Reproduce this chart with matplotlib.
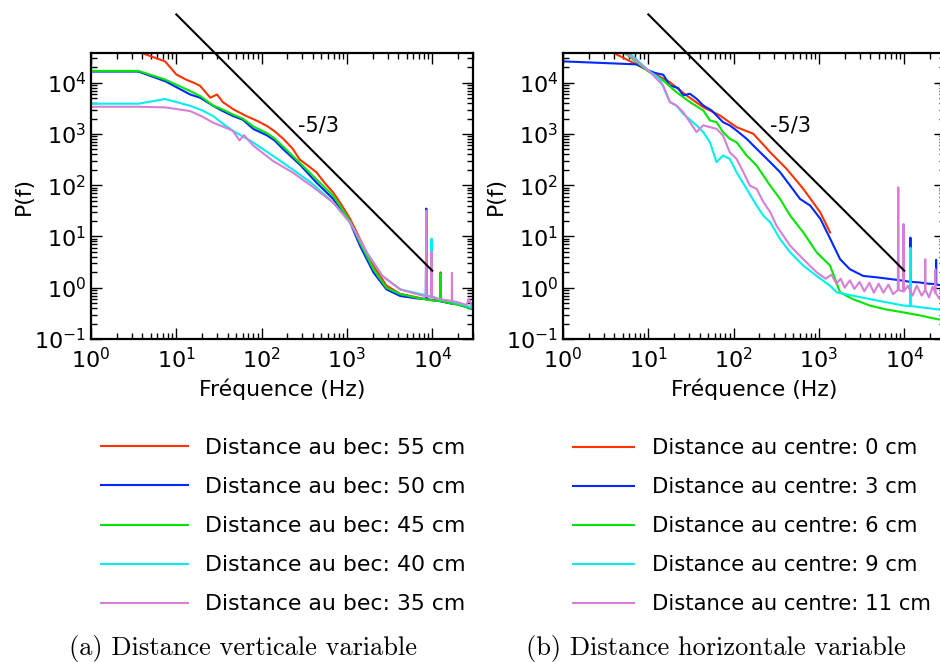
#spectres de puissance, deux panneaux (a) et (b)
#valeurs

import matplotlib
matplotlib.use("Agg")
import matplotlib.pyplot as plt
from matplotlib.ticker import LogLocator

plt.rcParams['font.family'] = 'DejaVu Sans'
plt.rcParams['mathtext.fontset'] = 'dejavusans'

colors = ['#ff3300', '#0028ff', '#00e600', '#00f0f0', '#d67fd6']

labels_a = ["Distance au bec: 55 cm", "Distance au bec: 50 cm", "Distance au bec: 45 cm",
            "Distance au bec: 40 cm", "Distance au bec: 35 cm"]
labels_b = ["Distance au centre: 0 cm", "Distance au centre: 3 cm", "Distance au centre: 6 cm",
            "Distance au centre: 9 cm", "Distance au centre: 11 cm"]

# ---- (a) distance verticale ----
f_a55 = [1, 3.6, 5, 7.4, 10, 13, 16, 19, 25, 30, 35, 47, 66, 90, 114, 140, 180, 230, 280, 350,
         440, 550, 690, 830, 1090, 1420, 2040, 2900, 4200, 6600, 9000, 12300, 12500, 12700,
         16000, 20000, 25000, 30000]
p_a55 = [45000, 40000, 33000, 26000, 14500, 11500, 10000, 8700, 5100, 5900, 4200, 3000, 2240,
         1780, 1450, 1150, 800, 520, 316, 240, 178, 110, 72, 46, 22, 8.9, 2.7, 1.1, 0.76, 0.65,
         0.58, 0.55, 2.0, 0.55, 0.5, 0.48, 0.43, 0.40]

f_a50 = [1, 3.6, 7.4, 14.5, 19, 27, 35, 46, 60, 80, 114, 140, 180, 282, 440, 690, 1090, 1420,
         2040, 2900, 4200, 6600, 8400, 8500, 8600, 12000, 16000, 20000, 25000, 30000]
p_a50 = [16500, 16500, 10700, 5900, 5100, 3550, 2800, 2240, 1900, 1250, 950, 760, 500, 250,
         112, 54, 18.6, 6.6, 2.0, 0.93, 0.69, 0.62, 0.6, 35, 0.6, 0.55, 0.5, 0.47, 0.42, 0.38]

f_a45 = [1, 3.6, 7.4, 14.5, 19, 27, 35, 46, 60, 80, 114, 140, 180, 282, 440, 690, 1090, 1420,
         2040, 2900, 4200, 6600, 9000, 12400, 12500, 12600, 16000, 20000, 25000, 30000]
p_a45 = [17000, 17000, 11500, 6900, 5500, 3600, 3000, 2400, 2000, 1400, 1050, 830, 560, 270,
         130, 62, 20, 7.6, 2.3, 1.0, 0.75, 0.64, 0.58, 0.55, 1.9, 0.55, 0.5, 0.47, 0.42, 0.39]

f_a40 = [1, 3.6, 7.4, 14.5, 20, 27, 35, 46, 60, 80, 137, 230, 380, 690, 1090, 1700, 2600, 4200,
         6600, 9700, 9800, 9900, 12000, 16000, 20000, 25000, 30000]
p_a40 = [3900, 3900, 4800, 3550, 2900, 2240, 1600, 1150, 900, 680, 370, 204, 112, 46, 18.6, 4.9,
         1.7, 0.93, 0.78, 0.68, 9.1, 0.68, 0.6, 0.55, 0.5, 0.45, 0.4]

f_a35 = [1, 3.6, 7.4, 14.5, 20, 27, 35, 46, 55, 62, 80, 137, 230, 380, 690, 1090, 1700, 2600,
         4200, 6600, 8400, 8500, 8600, 9700, 9800, 9900, 12000, 16900, 17000, 17100, 20000,
         25000, 27000, 30000]
p_a35 = [3400, 3400, 3300, 2800, 2200, 1660, 1400, 1150, 750, 950, 590, 295, 178, 98, 46, 18.6,
         4.9, 1.7, 0.93, 0.75, 0.68, 32, 0.68, 0.66, 5, 0.65, 0.6, 0.55, 1.95, 0.55, 0.52, 0.46,
         0.6, 0.38]

# ---- (b) distance horizontale ----
f_b0 = [1, 3.7, 10, 17.8, 28, 44, 69, 108, 170, 268, 418, 655, 1030, 1350]
p_b0 = [50000, 40000, 17400, 10300, 5650, 3340, 2300, 1360, 1010, 440, 208, 85, 30, 12]

f_b3 = [1, 7.3, 10, 12, 15, 17.8, 22.4, 25.6, 30.7, 36.7, 44, 55, 63, 75, 90, 108, 142, 186,
        268, 350, 460, 600, 790, 1040, 1360, 1770, 2300, 3300, 4700, 6800, 9800, 11700, 11800,
        11900, 15000, 19000, 23500, 23600, 23700, 30000]
p_b3 = [26100, 22800, 17400, 15500, 14300, 8870, 7870, 5650, 6090, 4870, 3600, 2880, 2300,
        1700, 1470, 1170, 805, 513, 282, 180, 98, 54, 40, 22, 8.9, 3.6, 2.3, 1.7, 1.6, 1.48,
        1.37, 1.3, 9.5, 1.3, 1.27, 1.2, 1.18, 3.5, 1.15, 1.1]

f_b6 = [1, 5.1, 10, 14.9, 21.3, 30.7, 44, 52.7, 63, 75, 90, 108, 142, 186, 268, 350, 460, 655,
        940, 1350, 1770, 2500, 3950, 6000, 9800, 15000, 24000, 30000]
p_b6 = [50000, 40000, 16600, 11100, 6570, 4190, 2880, 1840, 1700, 1090, 805, 692, 380, 242,
        98, 54, 25.5, 12, 4.9, 2.7, 0.81, 0.60, 0.45, 0.38, 0.33, 0.29, 0.245, 0.23]

f_b9 = [1, 5.8, 10, 13.6, 17.9, 21.3, 25.6, 36.7, 44, 52.7, 63, 75, 90, 108, 142, 186, 223,
        268, 350, 460, 655, 940, 1350, 1620, 2500, 3950, 9800, 11700, 11800, 11900, 24000, 30000]
p_b9 = [50000, 40000, 17400, 12000, 4190, 3600, 2480, 1470, 1090, 692, 282, 380, 327, 180, 85,
        40, 25.5, 19, 8.9, 4.9, 2.7, 1.7, 1.09, 0.81, 0.70, 0.60, 0.45, 0.44, 6.0, 0.44, 0.38,
        0.36]

f_b11 = [1, 5.3, 10, 14.9, 17.9, 21.3, 25.6, 36.7, 44, 52.7, 63, 75, 90, 108, 130, 155, 186,
         223, 268, 318, 460, 655, 940, 1200, 1400, 1600, 1800, 2000, 2300, 2600, 3000, 3400,
         3900, 4400, 5000, 5700, 6500, 7400, 8400, 8500, 8600, 9700, 9800, 9900, 11000, 12500,
         14000, 16000, 17500, 17600, 17700, 19500, 21500, 23000, 23100, 23200, 26000, 30000]
p_b11 = [50000, 40000, 17400, 8870, 4190, 3600, 2670, 1090, 1470, 1360, 1260, 935, 440, 327,
         180, 98, 85, 47, 30, 16.3, 6.6, 3.6, 2.0, 1.5, 1.8, 1.2, 1.5, 1.0, 1.4, 0.95, 1.3, 0.85,
         1.25, 0.8, 1.2, 0.8, 1.15, 0.75, 0.9, 91, 0.9, 0.85, 17.5, 0.85, 1.1, 0.7, 1.1, 0.7,
         0.9, 3.6, 0.9, 0.65, 1.05, 0.8, 2.3, 0.8, 0.6, 0.9]

# droite de reference en f^(-5/3)
f_ref = [10, 10000]
p_ref = [2.15e5, 2.15]

series_a = [(f_a55, p_a55), (f_a50, p_a50), (f_a45, p_a45), (f_a40, p_a40), (f_a35, p_a35)]
series_b = [(f_b0, p_b0), (f_b3, p_b3), (f_b6, p_b6), (f_b9, p_b9), (f_b11, p_b11)]

fig = plt.figure(figsize=(9.4, 6.62), dpi=100)

ax_a = fig.add_axes([91/940, 1-339/662, 382/940, 286/662])
ax_b = fig.add_axes([563/940, 1-339/662, 382/940, 286/662])


def draw_panel(ax, series, labels, leg_x, handle_len, leg_size):
    lines = []
    for (f, p), c, lab in zip(series, colors, labels):
        ln, = ax.plot(f, p, color=c, lw=1.5, label=lab)
        lines.append(ln)
    ax.plot(f_ref, p_ref, color='black', lw=1.5, clip_on=False)
    ax.text(270, 1100, "-5/3", fontsize=15)
    ax.set_xscale('log')
    ax.set_yscale('log')
    ax.set_xlim(1, 3e4)
    ax.set_ylim(0.1, 3.8e4)
    ax.xaxis.set_major_locator(LogLocator(base=10, numticks=10))
    ax.xaxis.set_minor_locator(LogLocator(base=10, subs=range(2, 10), numticks=20))
    ax.yaxis.set_major_locator(LogLocator(base=10, numticks=10))
    ax.yaxis.set_minor_locator(LogLocator(base=10, subs=range(2, 10), numticks=20))
    ax.tick_params(which='both', direction='in', top=True, right=True, labelsize=16, width=1)
    ax.tick_params(which='major', length=8)
    ax.tick_params(which='minor', length=4.5)
    ax.tick_params(axis='x', which='major', pad=6)
    for s in ax.spines.values():
        s.set_linewidth(1.6)
    ax.set_xlabel("Fréquence (Hz)", fontsize=15.8, labelpad=4)
    ax.set_ylabel("P(f)", fontsize=15.8, labelpad=0)
    fig.legend(handles=lines, loc='upper left', bbox_to_anchor=(leg_x, 1-438/662),
               frameon=False, fontsize=leg_size, handlelength=handle_len,
               handletextpad=0.8 * 15.8 / leg_size, labelspacing=0.87 * 15.8 / leg_size,
               borderpad=0, borderaxespad=0)


draw_panel(ax_a, series_a, labels_a, 101/940, 3.95, 15.8)
draw_panel(ax_b, series_b, labels_b, 573/940, 2.8 * 15.8 / 15.2, 15.2)

fig.text(243/940, 1-648/662, "(a) Distance verticale variable", family='cmr10', fontsize=19,
         ha='center', va='center')
fig.text(716/940, 1-648/662, "(b) Distance horizontale variable", family='cmr10', fontsize=19,
         ha='center', va='center')

fig.savefig("out.png", dpi=100)
